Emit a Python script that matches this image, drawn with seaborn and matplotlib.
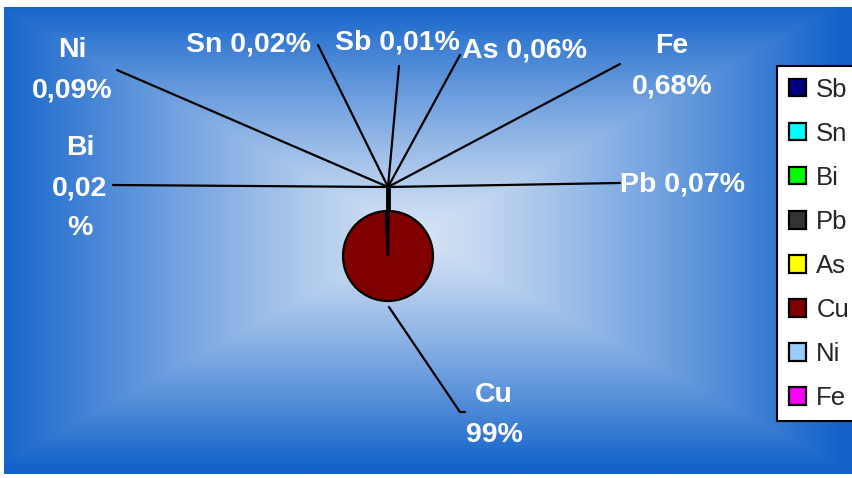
import numpy as np
import matplotlib
matplotlib.use('Agg')
import matplotlib.pyplot as plt
import seaborn as sns

sns.set_theme(style='white')
plt.rcParams['font.family'] = ['Liberation Sans', 'DejaVu Sans']

# ====== DATA
metals = ['Sb', 'Sn', 'Bi', 'Pb', 'As', 'Cu', 'Ni', 'Fe']
shares = [0.01, 0.02, 0.02, 0.07, 0.06, 99.0, 0.09, 0.68]
share_labels = ['Sb 0,01%', 'Sn 0,02%', 'Bi\n0,02\n%', 'Pb 0,07%', 'As 0,06%', 'Cu\n99%', 'Ni\n0,09%', 'Fe\n0,68%']
palette = ['#000080', '#00FFFF', '#00FF00', '#333333', '#FFFF00', '#800000', '#99CCFF', '#FF00FF']

# label positions (pixels, from top-left) and where the leader line touches the label
W, H = 852, 478
label_pos = {'Sb': (397, 42), 'Sn': (248, 44), 'Bi': (80, 188), 'Pb': (683, 184),
             'As': (525, 50), 'Cu': (494, 415), 'Ni': (72, 70), 'Fe': (672, 66)}
line_end = {'Sb': (399, 66), 'Sn': (318, 45), 'Bi': (113, 185), 'Pb': (620, 183),
            'As': (460, 55), 'Ni': (117, 70), 'Fe': (620, 64)}

fig = plt.figure(figsize=(W / 100, H / 100), dpi=100)
fig.patch.set_facecolor('white')

# ---- background: rectangular "from centre" gradient
bg = fig.add_axes([0, 0, 1, 1])
bg.set_xlim(0, W)
bg.set_ylim(0, H)
bg.axis('off')
x0, x1, y0, y1 = 4, W, 4, H - 7
gx, gy = np.meshgrid(np.linspace(x0, x1, 600), np.linspace(y0, y1, 340))
cx, cy = (x0 + x1) / 2 - 10, (y0 + y1) / 2 + 5
t = np.maximum(np.abs(gx - cx) / ((x1 - x0) / 2), np.abs(gy - cy) / ((y1 - y0) / 2))
t = np.clip(t, 0, 1) ** 1.2
c_in = np.array([214, 228, 245]) / 255
c_out = np.array([18, 98, 202]) / 255
img = c_in[None, None, :] * (1 - t[..., None]) + c_out[None, None, :] * t[..., None]
bg.imshow(img, extent=(x0, x1, y0, y1), origin='lower', aspect='auto', interpolation='bilinear')

# ---- pie
ax = fig.add_axes([0, 0, 1, 1])
ax.patch.set_alpha(0)
center = (388, H - 256)
radius = 45
wedges, _ = ax.pie(shares, colors=palette, startangle=90, counterclock=False,
                   center=center, radius=radius, frame=True,
                   wedgeprops=dict(edgecolor='black', linewidth=1.6))
ax.set_xlim(0, W)
ax.set_ylim(0, H)
ax.set_aspect('equal')
ax.axis('off')

# hub above the pie where the small-slice leader lines meet
hub = (center[0], center[1] + radius + 24)
ax.plot([center[0], hub[0]], [center[1] + radius, hub[1]], color='black', lw=3.5, solid_capstyle='butt')

text_kw = dict(color='white', fontsize=20.5, fontweight='bold', ha='center', va='center', linespacing=1.7)
for name, lab, w in zip(metals, share_labels, wedges):
    lx, ly = label_pos[name]
    ax.text(lx, H - ly, lab, **text_kw)
    if name in line_end:
        ex, ey = line_end[name]
        ax.plot([hub[0], ex], [hub[1], H - ey], color='black', lw=1.6)
    else:
        # Cu: leader from the middle of its wedge
        mid = np.deg2rad((w.theta1 + w.theta2) / 2)
        sx = center[0] + (radius + 6) * np.cos(mid)
        sy = center[1] + (radius + 6) * np.sin(mid)
        ax.plot([sx, 460, 465], [sy, H - 412, H - 412], color='black', lw=1.6)

leg = ax.legend(wedges, metals, loc='upper left', bbox_to_anchor=(777 / W, 1 - 66 / H),
                bbox_transform=fig.transFigure, frameon=True, fancybox=False,
                fontsize=18.5, handlelength=0.68, handleheight=0.68, handletextpad=0.4,
                labelspacing=0.78, borderpad=0.45, borderaxespad=0)
leg.get_frame().set_edgecolor('black')
leg.get_frame().set_linewidth(1.5)
leg.get_frame().set_facecolor('white')
leg.get_frame().set_alpha(1)

fig.savefig('out.png', dpi=100)
plt.close()
